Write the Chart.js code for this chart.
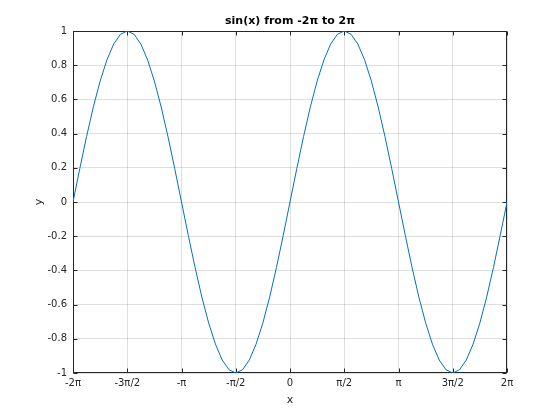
<!DOCTYPE html>
<html>
<head>
<meta charset="utf-8">
<script src="https://cdn.jsdelivr.net/npm/chart.js@4.4.0/dist/chart.umd.min.js"></script>
<style>
    html, body { margin: 0; padding: 0; background: #fff; }
    #wrap { width: 560px; height: 420px; }
</style>
</head>
<body>
<div id="wrap"><canvas id="sine-chart"></canvas></div>
<script>
// x positions are in units of pi
const xValues = [
    -2, -1.9375, -1.875, -1.8125, -1.75, -1.6875, -1.625, -1.5625,
    -1.5, -1.4375, -1.375, -1.3125, -1.25, -1.1875, -1.125, -1.0625,
    -1, -0.9375, -0.875, -0.8125, -0.75, -0.6875, -0.625, -0.5625,
    -0.5, -0.4375, -0.375, -0.3125, -0.25, -0.1875, -0.125, -0.0625,
    0, 0.0625, 0.125, 0.1875, 0.25, 0.3125, 0.375, 0.4375,
    0.5, 0.5625, 0.625, 0.6875, 0.75, 0.8125, 0.875, 0.9375,
    1, 1.0625, 1.125, 1.1875, 1.25, 1.3125, 1.375, 1.4375,
    1.5, 1.5625, 1.625, 1.6875, 1.75, 1.8125, 1.875, 1.9375,
    2
];
const yValues = [
    0, 0.195, 0.383, 0.556, 0.707, 0.831, 0.924, 0.981,
    1, 0.981, 0.924, 0.831, 0.707, 0.556, 0.383, 0.195,
    0, -0.195, -0.383, -0.556, -0.707, -0.831, -0.924, -0.981,
    -1, -0.981, -0.924, -0.831, -0.707, -0.556, -0.383, -0.195,
    0, 0.195, 0.383, 0.556, 0.707, 0.831, 0.924, 0.981,
    1, 0.981, 0.924, 0.831, 0.707, 0.556, 0.383, 0.195,
    0, -0.195, -0.383, -0.556, -0.707, -0.831, -0.924, -0.981,
    -1, -0.981, -0.924, -0.831, -0.707, -0.556, -0.383, -0.195,
    0
];
const xTicks = [-2, -1.5, -1, -0.5, 0, 0.5, 1, 1.5, 2];
const xTickLabels = ['-2π', '-3π/2', '-π', '-π/2', '0', 'π/2', 'π', '3π/2', '2π'];
const yTicks = [-1, -0.8, -0.6, -0.4, -0.2, 0, 0.2, 0.4, 0.6, 0.8, 1];
const yTickLabels = ['-1', '-0.8', '-0.6', '-0.4', '-0.2', '0', '0.2', '0.4', '0.6', '0.8', '1'];
const titleText = 'sin(x) from -2π to 2π';

const axisColor = '#262626';
const fontFamily = '"DejaVu Sans", sans-serif';

// box around the axes with inward tick marks on all four sides
const boxPlugin = {
    id: 'boxPlugin',
    beforeDatasetsDraw(chart) {
        const ctx = chart.ctx;
        const a = chart.chartArea;
        const L = Math.round(a.left) + 0.5, R = Math.round(a.right) - 0.5;
        const T = Math.round(a.top) + 0.5, B = Math.round(a.bottom) - 0.5;
        const len = 4;
        ctx.save();
        ctx.strokeStyle = axisColor;
        ctx.lineWidth = 1;
        ctx.strokeRect(L, T, R - L, B - T);
        ctx.beginPath();
        xTicks.forEach(v => {
            const px = Math.round(chart.scales.x.getPixelForValue(v)) + 0.5;
            ctx.moveTo(px, B); ctx.lineTo(px, B - len);
            ctx.moveTo(px, T); ctx.lineTo(px, T + len);
        });
        yTicks.forEach(v => {
            const py = Math.round(chart.scales.y.getPixelForValue(v)) + 0.5;
            ctx.moveTo(L, py); ctx.lineTo(L + len, py);
            ctx.moveTo(R, py); ctx.lineTo(R - len, py);
        });
        ctx.stroke();
        ctx.restore();
    },
    // title centred over the plot area, like MATLAB does
    afterDraw(chart) {
        const ctx = chart.ctx;
        const a = chart.chartArea;
        ctx.save();
        ctx.fillStyle = '#000';
        ctx.font = 'bold 11px ' + fontFamily;
        ctx.textAlign = 'center';
        ctx.textBaseline = 'middle';
        ctx.fillText(titleText, (a.left + a.right) / 2, 21);
        ctx.restore();
    }
};

const ctx = document.getElementById('sine-chart').getContext('2d');
const sineChart = new Chart(ctx, {
    type: 'line',
    data: {
        datasets: [{
            data: xValues.map((x, i) => ({ x: x, y: yValues[i] })),
            borderColor: '#0072bd',
            borderWidth: 1,
            pointRadius: 0,
            tension: 0,
            fill: false
        }]
    },
    options: {
        responsive: true,
        maintainAspectRatio: false,
        animation: false,
        layout: {
            padding: { left: 0, right: 53, top: 31, bottom: 0 }
        },
        plugins: {
            legend: { display: false },
            tooltip: { enabled: false },
            title: { display: false }
        },
        scales: {
            x: {
                type: 'linear',
                min: -2,
                max: 2,
                afterFit: s => { s.height = 47; },
                afterBuildTicks: s => { s.ticks = xTicks.map(v => ({ value: v })); },
                ticks: {
                    padding: 4,
                    color: axisColor,
                    font: { family: fontFamily, size: 10 },
                    maxRotation: 0,
                    callback: (v) => xTickLabels[xTicks.indexOf(v)]
                },
                grid: { color: 'rgba(38,38,38,0.15)', drawTicks: false },
                border: { display: false },
                title: {
                    display: true,
                    text: 'x',
                    color: axisColor,
                    font: { family: fontFamily, size: 11 },
                    padding: { top: 0, bottom: 13 }
                }
            },
            y: {
                type: 'linear',
                min: -1,
                max: 1,
                afterFit: s => { s.width = 73; },
                afterBuildTicks: s => { s.ticks = yTicks.map(v => ({ value: v })); },
                ticks: {
                    padding: 6,
                    color: axisColor,
                    font: { family: fontFamily, size: 10 },
                    callback: (v) => yTickLabels[yTicks.indexOf(v)]
                },
                grid: { color: 'rgba(38,38,38,0.15)', drawTicks: false },
                border: { display: false },
                title: {
                    display: true,
                    text: 'y',
                    color: axisColor,
                    font: { family: fontFamily, size: 11 },
                    padding: { top: 33, bottom: 0 }
                }
            }
        }
    },
    plugins: [boxPlugin]
});
</script>
</body>
</html>
